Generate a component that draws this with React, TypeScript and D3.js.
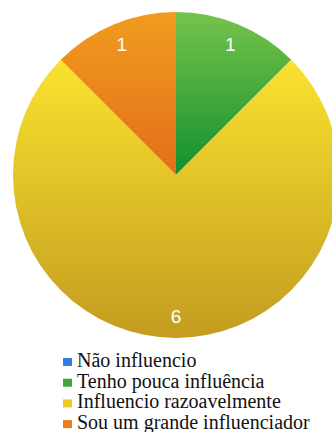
import React from "react";
import * as d3 from "d3";

const categories = ["Não influencio", "Tenho pouca influência", "Influencio razoavelmente", "Sou um grande influenciador"];
const values = [0, 1, 6, 1];
const topColors = ["#5aa3f0", "#76c34b", "#fae22f", "#f09c1f"];
const bottomColors = ["#1f6fd0", "#12902e", "#c39c20", "#e36e1a"];
const legendColors = ["#2f80e0", "#3aa83c", "#ecca22", "#ea7e1c"];

export default function App() {
  const width = 332, height = 432;
  const cx = 176, cy = 175, R = 163;
  const pie = d3.pie<number>().sort(null).value((d) => d);
  const arcs = pie(values);
  const arc = d3.arc<d3.PieArcDatum<number>>().innerRadius(0).outerRadius(R);
  const labelArc = d3.arc<d3.PieArcDatum<number>>().innerRadius(R * 0.87).outerRadius(R * 0.87);
  return (
    <svg width={width} height={height} style={{ position: "absolute", left: 0, top: 0 }}>
      <defs>
        {categories.map((c, i) => (
          <linearGradient key={i} id={`g${i}`} x1="0" y1="0" x2="0" y2="1">
            <stop offset="0%" stopColor={topColors[i]} />
            <stop offset="100%" stopColor={bottomColors[i]} />
          </linearGradient>
        ))}
      </defs>
      <rect width={width} height={height} fill="#fff" />
      <g transform={`translate(${cx},${cy})`}>
        {arcs.map((a, i) =>
          a.value > 0 ? <path key={i} d={arc(a) || ""} fill={`url(#g${i})`} /> : null
        )}
        {arcs.map((a, i) => {
          if (a.value <= 0) return null;
          const [x, y] = labelArc.centroid(a);
          return (
            <text key={i} x={x} y={y} textAnchor="middle" dominantBaseline="central"
              fill="#fff" style={{ fontFamily: "'Liberation Sans', Arial, sans-serif", fontSize: 19 }}>
              {a.value}
            </text>
          );
        })}
      </g>
      <g>
        {categories.map((c, i) => (
          <g key={i} transform={`translate(63,${367 + i * 20.7})`}>
            <rect x={0} y={-9} width={9} height={8} fill={legendColors[i]} />
            <text x={14} y={0} fill="#111"
              style={{ fontFamily: "'Times New Roman', Times, 'Liberation Serif', 'DejaVu Serif', 'Noto Serif', serif", fontSize: 20 }}>
              {c}
            </text>
          </g>
        ))}
      </g>
    </svg>
  );
}
